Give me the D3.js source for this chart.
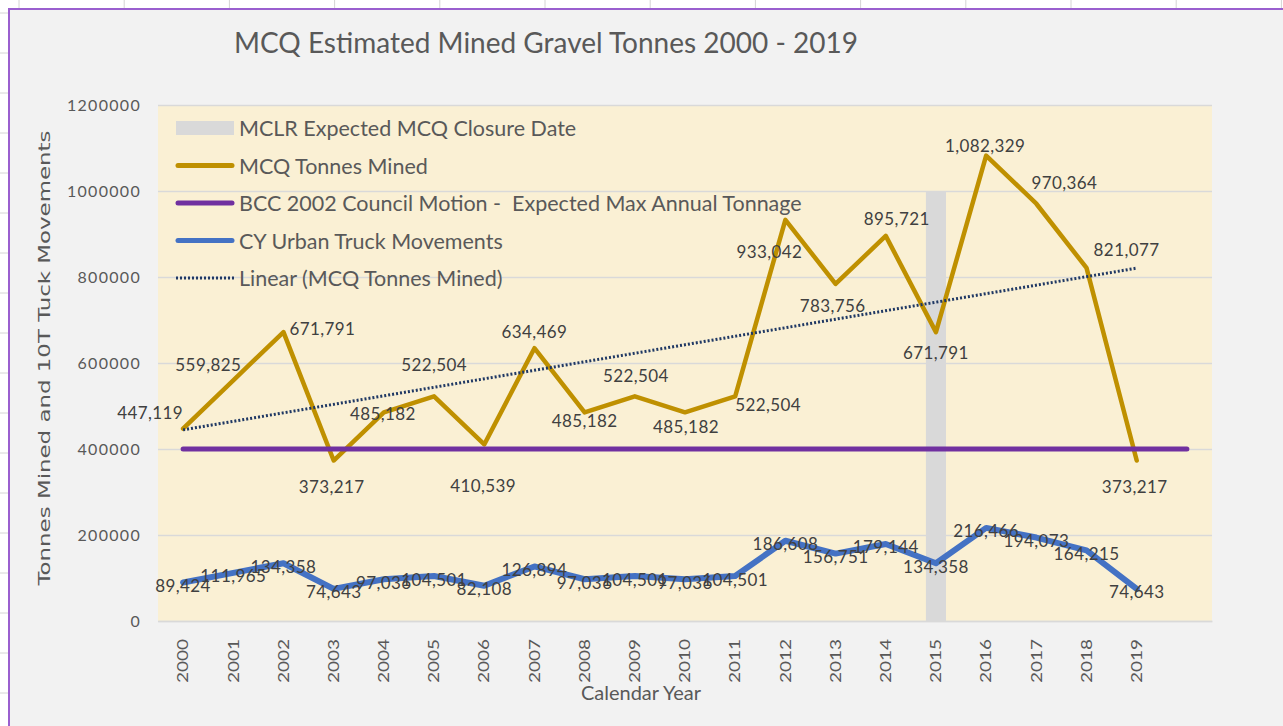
<!DOCTYPE html>
<html><head><meta charset="utf-8">
<script src="https://cdn.jsdelivr.net/npm/d3@7"></script>
<style>
html,body{margin:0;padding:0;background:#fff;}
svg{display:block;}
text{font-family:Lato,"Open Sans",sans-serif;}
</style></head>
<body><svg id="chart" width="1283" height="726"></svg>
<script>
// ---------- DATA ----------
const years = ["2000","2001","2002","2003","2004","2005","2006","2007","2008","2009",
               "2010","2011","2012","2013","2014","2015","2016","2017","2018","2019",""];
const tonnesMined = [447119,559825,671791,373217,485182,522504,410539,634469,485182,522504,
                     485182,522504,933042,783756,895721,671791,1082329,970364,821077,373217];
const truckMovements = [89424,111965,134358,74643,97036,104501,82108,126894,97036,104501,
                        97036,104501,186608,156751,179144,134358,216466,194073,164215,74643];
const councilMax = [400000,400000,400000,400000,400000,400000,400000,400000,400000,400000,
                    400000,400000,400000,400000,400000,400000,400000,400000,400000,400000,400000];
const closureYears = ["2015"];
const closureValues = [1000000];
const yTicks = [0,200000,400000,600000,800000,1000000,1200000];
const legendLabels = ["MCLR Expected MCQ Closure Date","MCQ Tonnes Mined",
  "BCC 2002 Council Motion -  Expected Max Annual Tonnage","CY Urban Truck Movements",
  "Linear (MCQ Tonnes Mined)"];
const titleText = "MCQ Estimated Mined Gravel Tonnes 2000 - 2019";
const yTitle = "Tonnes Mined and 10T Tuck Movements";
const xTitle = "Calendar Year";

// label placement (style only): offsets of label centre from its point
const minedLabelOffsets = [[-33,-16],[-25,-16],[39,-4],[-2,26],[-1,1],[0,-32],[-1,41],[0,-17],[0,8],[1,-21],
                           [1,14],[33,8],[-16,32],[-3,22],[11,-17],[0,20],[-1,-10],[28,-21],[40,-18],[-2,26]];
const truckLabelOffset = [0,3];

// ---------- LAYOUT ----------
const W = 1283, H = 726;
const plot = {left:158, right:1212, top:105, bottom:621};
const colors = {gold:"#bf9000", purple:"#7030a0", blue:"#4472c4", trend:"#1f3864",
                bar:"#d9d9d9", grid:"#d9d9d9", plotBg:"#faf0d4", frameBg:"#f2f2f2",
                text:"#595959", label:"#404040"};

const svg = d3.select("#chart");

// excel sheet background grid
const sheet = svg.append("g");
sheet.append("rect").attr("width",W).attr("height",H).attr("fill","#fff");
sheet.selectAll("line.v").data(d3.range(19, W, 105.2)).join("line")
  .attr("x1",d=>d).attr("x2",d=>d).attr("y1",0).attr("y2",H).attr("stroke","#d4d4d4");
sheet.selectAll("line.h").data(d3.range(13, H, 40)).join("line")
  .attr("y1",d=>d).attr("y2",d=>d).attr("x1",0).attr("x2",W).attr("stroke","#d4d4d4");
// chart frame
svg.append("rect").attr("x",9).attr("y",9).attr("width",W+20).attr("height",H+20)
  .attr("fill",colors.frameBg).attr("stroke","#9a5fcf").attr("stroke-width",2);

// scales
const x = d3.scaleBand().domain(years).range([plot.left, plot.right]).padding(0);
const cx = d => x(d) + x.bandwidth()/2;
const y = d3.scaleLinear().domain([0,1200000]).range([plot.bottom, plot.top]);

// plot background
svg.append("rect").attr("x",plot.left).attr("y",plot.top)
  .attr("width",plot.right-plot.left).attr("height",plot.bottom-plot.top).attr("fill",colors.plotBg);

// gridlines via axis
const yAxis = d3.axisLeft(y).tickValues(yTicks).tickFormat(d3.format("d"))
  .tickSize(-(plot.right-plot.left)).tickPadding(17);
const gy = svg.append("g").attr("transform",`translate(${plot.left},0)`).call(yAxis);
gy.select(".domain").remove();
gy.selectAll(".tick line").attr("stroke",colors.grid).attr("stroke-width",1.5);
gy.selectAll(".tick text").attr("fill",colors.text).style("font-size","16px")
  .style("font-family","Lato").style("letter-spacing","1.3px");

// x axis
const xAxis = d3.axisBottom(x).tickSize(0).tickPadding(0);
const gx = svg.append("g").attr("transform",`translate(0,${plot.bottom})`).call(xAxis);
gx.select(".domain").attr("stroke",colors.grid).attr("stroke-width",1.5);
gx.selectAll(".tick text")
  .attr("transform","rotate(-90)")
  .attr("x",-18).attr("y",0).attr("dy","0.35em")
  .attr("text-anchor","end")
  .attr("fill",colors.text).style("font-size","15px").style("font-family","Lato")
  .attr("textLength",d=> d ? 44 : null).attr("lengthAdjust","spacingAndGlyphs");

// closure bar
svg.selectAll("rect.closure").data(closureYears).join("rect").attr("class","closure")
  .attr("x",(d)=>cx(d) - x.bandwidth()*0.2).attr("width",x.bandwidth()*0.4)
  .attr("y",(d,i)=>y(closureValues[i])).attr("height",(d,i)=>y(0)-y(closureValues[i]))
  .attr("fill",colors.bar);

// lines
const line = d3.line().x((d,i)=>cx(years[i])).y(d=>y(d));
svg.append("path").datum(tonnesMined).attr("d",line).attr("fill","none")
  .attr("stroke",colors.gold).attr("stroke-width",4.5).attr("stroke-linejoin","round").attr("stroke-linecap","round");
svg.append("path").datum(councilMax).attr("d",line).attr("fill","none")
  .attr("stroke",colors.purple).attr("stroke-width",5).attr("stroke-linecap","round");
svg.append("path").datum(truckMovements).attr("d",line).attr("fill","none")
  .attr("stroke",colors.blue).attr("stroke-width",6).attr("stroke-linejoin","round").attr("stroke-linecap","round");

// linear trend (least squares of tonnesMined, as Excel's trendline)
const n = tonnesMined.length;
const xs = d3.range(n);
const mx = d3.mean(xs), my = d3.mean(tonnesMined);
const slope = d3.sum(xs,(v,i)=>(v-mx)*(tonnesMined[i]-my)) / d3.sum(xs,v=>(v-mx)*(v-mx));
const icpt = my - slope*mx;
svg.append("line")
  .attr("x1",cx(years[0])).attr("y1",y(icpt))
  .attr("x2",cx(years[n-1])).attr("y2",y(icpt+slope*(n-1)))
  .attr("stroke",colors.trend).attr("stroke-width",3).attr("stroke-dasharray","2,2");

// data labels
const fmt = d3.format(",");
svg.selectAll("text.ml").data(tonnesMined).join("text").attr("class","ml")
  .attr("x",(d,i)=>cx(years[i])+minedLabelOffsets[i][0])
  .attr("y",(d,i)=>y(d)+minedLabelOffsets[i][1])
  .attr("text-anchor","middle").attr("dominant-baseline","central")
  .attr("fill",colors.label).style("font-size","17px").style("letter-spacing","0.4px").text(d=>fmt(d));
svg.selectAll("text.tl").data(truckMovements).join("text").attr("class","tl")
  .attr("x",(d,i)=>cx(years[i])+truckLabelOffset[0])
  .attr("y",(d,i)=>y(d)+truckLabelOffset[1])
  .attr("text-anchor","middle").attr("dominant-baseline","central")
  .attr("fill",colors.label).style("font-size","17px").style("letter-spacing","0.4px").text(d=>fmt(d));

// legend
const lg = svg.append("g").attr("transform","translate(176,128)");
const rowH = 37.5;
legendLabels.forEach((t,i)=>{
  const g = lg.append("g").attr("transform",`translate(0,${i*rowH})`);
  if(i===0){
    g.append("rect").attr("x",0).attr("y",-7).attr("width",58).attr("height",14).attr("fill",colors.bar);
  } else if(i===4){
    g.append("line").attr("x1",0).attr("x2",58).attr("stroke",colors.trend)
      .attr("stroke-width",3).attr("stroke-dasharray","2,2");
  } else {
    const c = [null,colors.gold,colors.purple,colors.blue][i];
    g.append("line").attr("x1",2).attr("x2",56).attr("stroke",c)
      .attr("stroke-width",5).attr("stroke-linecap","round");
  }
  g.append("text").attr("x",63).attr("y",0).attr("dominant-baseline","central")
    .style("white-space","pre").attr("xml:space","preserve")
    .attr("fill",colors.text).style("font-size","21.5px").text(t);
});

// titles
svg.append("text").attr("x",546).attr("y",42).attr("text-anchor","middle")
  .attr("dominant-baseline","central").attr("fill",colors.text).style("font-size","28px").text(titleText);
svg.append("text").attr("transform","translate(45,358) rotate(-90)")
  .attr("text-anchor","middle").attr("dominant-baseline","central")
  .attr("fill",colors.text).style("font-size","15px").style("font-family","'DejaVu Sans'")
  .attr("textLength",455).attr("lengthAdjust","spacingAndGlyphs").text(yTitle);
svg.append("text").attr("x",641).attr("y",692).attr("text-anchor","middle")
  .attr("dominant-baseline","central").attr("fill",colors.text).style("font-size","20px").text(xTitle);
</script></body></html>
